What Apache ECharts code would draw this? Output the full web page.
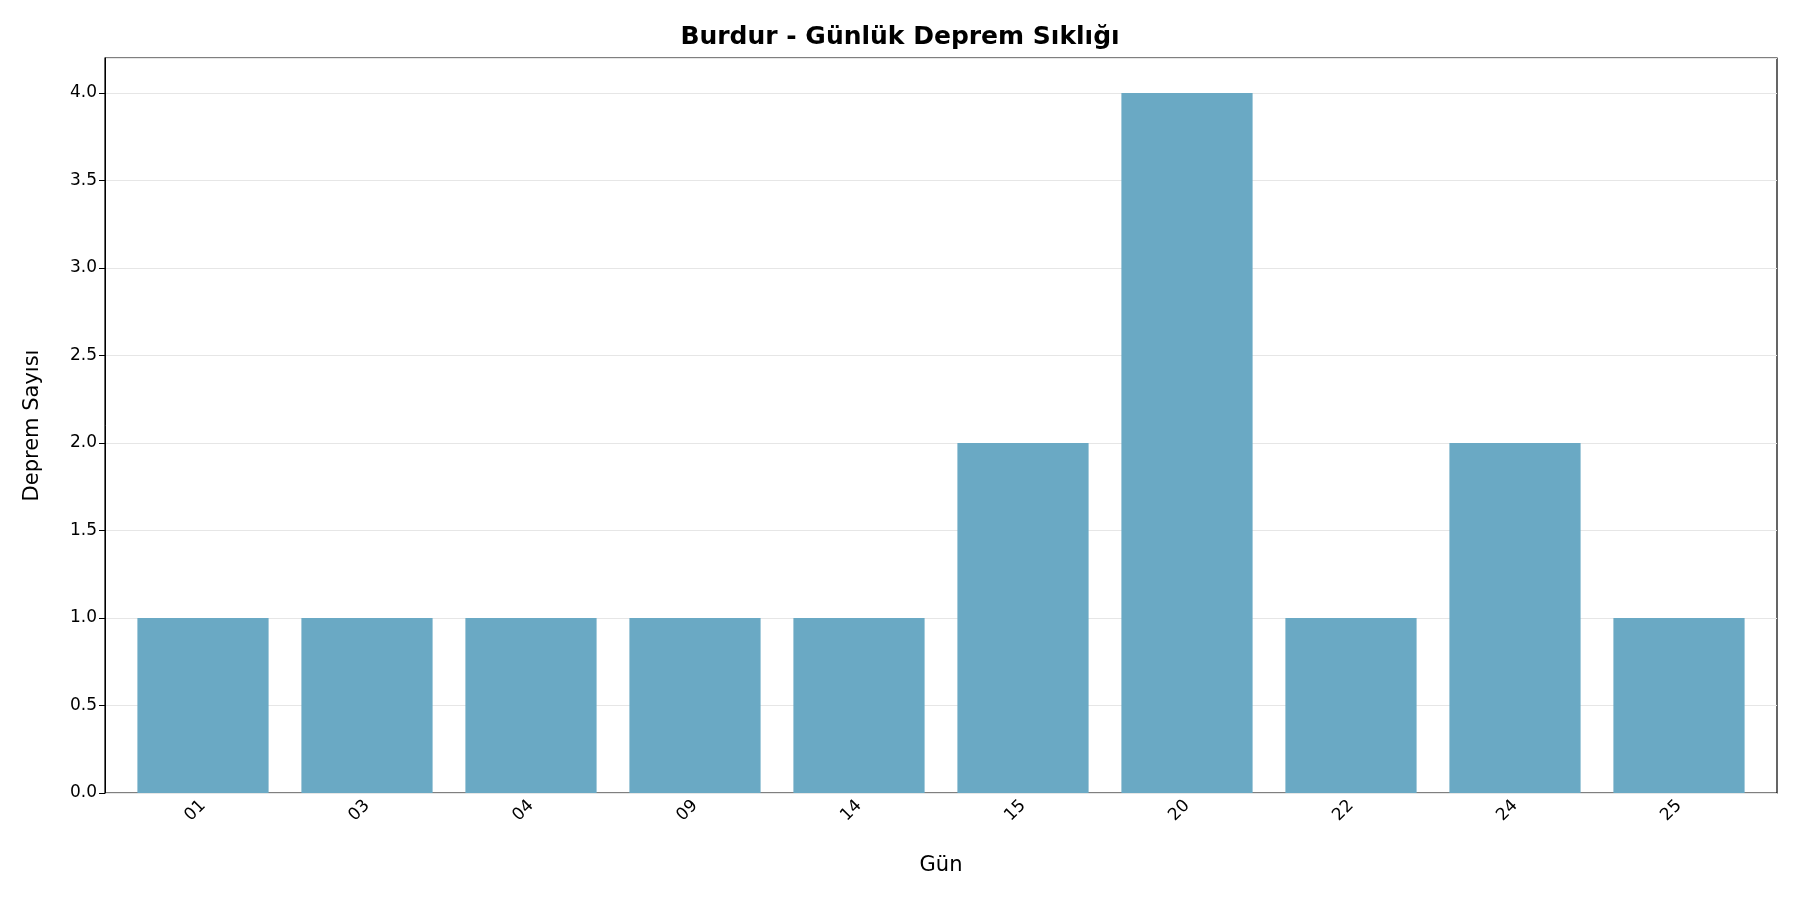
<!DOCTYPE html>
<html><head><meta charset="utf-8">
<script src="https://cdn.jsdelivr.net/npm/echarts@6/dist/echarts.min.js"></script>
<style>html,body{margin:0;background:#fff}#c{width:1800px;height:900px}</style>
</head><body><div id="c"></div>
<script>
const days = ['01','03','04','09','14','15','20','22','24','25'];
const counts = [1,1,1,1,1,2,4,1,2,1];
const chart = echarts.init(document.getElementById('c'));
const F = 'DejaVu Sans';
chart.setOption({
  animation:false,
  textStyle:{fontFamily:F},
  title:{text:'Burdur - Günlük Deprem Sıklığı',left:'center',top:20,textStyle:{fontFamily:F,fontSize:25,fontWeight:'bold',color:'#000'}},
  grid:[
    {left:105,right:23,top:58,bottom:107,show:true,borderColor:'#000',borderWidth:1.2},
    {left:121,right:39,top:58,bottom:107}
  ],
  xAxis:[
    {gridIndex:0,type:'value',min:0,max:1,show:false},
    {gridIndex:1,type:'category',data:days,name:'Gün',nameLocation:'middle',nameGap:62,
    nameTextStyle:{fontFamily:F,fontSize:21,color:'#000'},
    axisLine:{show:false},axisTick:{alignWithLabel:true,length:6,lineStyle:{color:'#000'}},
    axisLabel:{rotate:45,fontSize:17,color:'#000',margin:10}}
  ],
  yAxis:[
    {gridIndex:0,type:'value',min:0,max:4.2,interval:0.5,name:'Deprem Sayısı',nameLocation:'middle',nameGap:62,
    nameTextStyle:{fontFamily:F,fontSize:21,color:'#000'},
    axisLine:{show:true,lineStyle:{color:'#000'}},axisTick:{show:true,length:6,lineStyle:{color:'#000'}},
    axisLabel:{fontSize:17,color:'#000',showMaxLabel:false,formatter:v=>v.toFixed(1)},
    splitLine:{lineStyle:{color:'#e6e6e6'}}},
    {gridIndex:1,type:'value',min:0,max:4.2,show:false}
  ],
  series:[{type:'bar',xAxisIndex:1,yAxisIndex:1,data:counts,barWidth:'80%',itemStyle:{color:'#6aa9c4'}}]
});
</script></body></html>
